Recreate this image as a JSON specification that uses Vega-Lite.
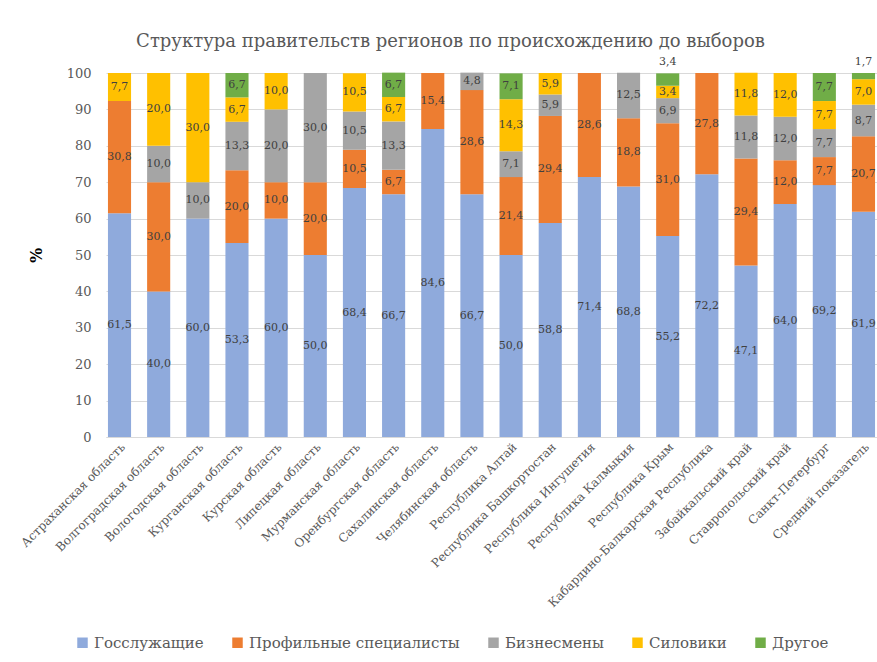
{
  "$schema": "https://vega.github.io/schema/vega-lite/v6.json",
  "autosize": {"type": "none"},
  "width": 771,
  "height": 364,
  "padding": {"left": 106, "top": 73, "right": 0, "bottom": 225},
  "background": "white",
  "title": {"text": "Структура правительств регионов по происхождению до выборов", "font": "DejaVu Serif", "fontSize": 18, "fontWeight": "normal", "color": "#595959", "offset": 5, "dx": -41},
  "config": {
    "view": {"stroke": null},
    "locale": {"number": {"decimal": ",", "thousands": " ", "grouping": [3], "currency": ["", ""]}}
  },
  "data": {"values": [
    {"r": "Астраханская область", "c": "Госслужащие", "v": 61.5},
    {"r": "Астраханская область", "c": "Профильные специалисты", "v": 30.8},
    {"r": "Астраханская область", "c": "Силовики", "v": 7.7},
    {"r": "Волгоградская область", "c": "Госслужащие", "v": 40.0},
    {"r": "Волгоградская область", "c": "Профильные специалисты", "v": 30.0},
    {"r": "Волгоградская область", "c": "Бизнесмены", "v": 10.0},
    {"r": "Волгоградская область", "c": "Силовики", "v": 20.0},
    {"r": "Вологодская область", "c": "Госслужащие", "v": 60.0},
    {"r": "Вологодская область", "c": "Бизнесмены", "v": 10.0},
    {"r": "Вологодская область", "c": "Силовики", "v": 30.0},
    {"r": "Курганская область", "c": "Госслужащие", "v": 53.3},
    {"r": "Курганская область", "c": "Профильные специалисты", "v": 20.0},
    {"r": "Курганская область", "c": "Бизнесмены", "v": 13.3},
    {"r": "Курганская область", "c": "Силовики", "v": 6.7},
    {"r": "Курганская область", "c": "Другое", "v": 6.7},
    {"r": "Курская область", "c": "Госслужащие", "v": 60.0},
    {"r": "Курская область", "c": "Профильные специалисты", "v": 10.0},
    {"r": "Курская область", "c": "Бизнесмены", "v": 20.0},
    {"r": "Курская область", "c": "Силовики", "v": 10.0},
    {"r": "Липецкая область", "c": "Госслужащие", "v": 50.0},
    {"r": "Липецкая область", "c": "Профильные специалисты", "v": 20.0},
    {"r": "Липецкая область", "c": "Бизнесмены", "v": 30.0},
    {"r": "Мурманская область", "c": "Госслужащие", "v": 68.4},
    {"r": "Мурманская область", "c": "Профильные специалисты", "v": 10.5},
    {"r": "Мурманская область", "c": "Бизнесмены", "v": 10.5},
    {"r": "Мурманская область", "c": "Силовики", "v": 10.5},
    {"r": "Оренбургская область", "c": "Госслужащие", "v": 66.7},
    {"r": "Оренбургская область", "c": "Профильные специалисты", "v": 6.7},
    {"r": "Оренбургская область", "c": "Бизнесмены", "v": 13.3},
    {"r": "Оренбургская область", "c": "Силовики", "v": 6.7},
    {"r": "Оренбургская область", "c": "Другое", "v": 6.7},
    {"r": "Сахалинская область", "c": "Госслужащие", "v": 84.6},
    {"r": "Сахалинская область", "c": "Профильные специалисты", "v": 15.4},
    {"r": "Челябинская область", "c": "Госслужащие", "v": 66.7},
    {"r": "Челябинская область", "c": "Профильные специалисты", "v": 28.6},
    {"r": "Челябинская область", "c": "Бизнесмены", "v": 4.8},
    {"r": "Республика Алтай", "c": "Госслужащие", "v": 50.0},
    {"r": "Республика Алтай", "c": "Профильные специалисты", "v": 21.4},
    {"r": "Республика Алтай", "c": "Бизнесмены", "v": 7.1},
    {"r": "Республика Алтай", "c": "Силовики", "v": 14.3},
    {"r": "Республика Алтай", "c": "Другое", "v": 7.1},
    {"r": "Республика Башкортостан", "c": "Госслужащие", "v": 58.8},
    {"r": "Республика Башкортостан", "c": "Профильные специалисты", "v": 29.4},
    {"r": "Республика Башкортостан", "c": "Бизнесмены", "v": 5.9},
    {"r": "Республика Башкортостан", "c": "Силовики", "v": 5.9},
    {"r": "Республика Ингушетия", "c": "Госслужащие", "v": 71.4},
    {"r": "Республика Ингушетия", "c": "Профильные специалисты", "v": 28.6},
    {"r": "Республика Калмыкия", "c": "Госслужащие", "v": 68.8},
    {"r": "Республика Калмыкия", "c": "Профильные специалисты", "v": 18.8},
    {"r": "Республика Калмыкия", "c": "Бизнесмены", "v": 12.5},
    {"r": "Республика Крым", "c": "Госслужащие", "v": 55.2},
    {"r": "Республика Крым", "c": "Профильные специалисты", "v": 31.0},
    {"r": "Республика Крым", "c": "Бизнесмены", "v": 6.9},
    {"r": "Республика Крым", "c": "Силовики", "v": 3.4},
    {"r": "Республика Крым", "c": "Другое", "v": 3.4},
    {"r": "Кабардино-Балкарская Республика", "c": "Госслужащие", "v": 72.2},
    {"r": "Кабардино-Балкарская Республика", "c": "Профильные специалисты", "v": 27.8},
    {"r": "Забайкальский край", "c": "Госслужащие", "v": 47.1},
    {"r": "Забайкальский край", "c": "Профильные специалисты", "v": 29.4},
    {"r": "Забайкальский край", "c": "Бизнесмены", "v": 11.8},
    {"r": "Забайкальский край", "c": "Силовики", "v": 11.8},
    {"r": "Ставропольский край", "c": "Госслужащие", "v": 64.0},
    {"r": "Ставропольский край", "c": "Профильные специалисты", "v": 12.0},
    {"r": "Ставропольский край", "c": "Бизнесмены", "v": 12.0},
    {"r": "Ставропольский край", "c": "Силовики", "v": 12.0},
    {"r": "Санкт-Петербург", "c": "Госслужащие", "v": 69.2},
    {"r": "Санкт-Петербург", "c": "Профильные специалисты", "v": 7.7},
    {"r": "Санкт-Петербург", "c": "Бизнесмены", "v": 7.7},
    {"r": "Санкт-Петербург", "c": "Силовики", "v": 7.7},
    {"r": "Санкт-Петербург", "c": "Другое", "v": 7.7},
    {"r": "Средний показатель", "c": "Госслужащие", "v": 61.9},
    {"r": "Средний показатель", "c": "Профильные специалисты", "v": 20.7},
    {"r": "Средний показатель", "c": "Бизнесмены", "v": 8.7},
    {"r": "Средний показатель", "c": "Силовики", "v": 7.0},
    {"r": "Средний показатель", "c": "Другое", "v": 1.7}
  ]},
  "transform": [
    {"calculate": "indexof(['Госслужащие','Профильные специалисты','Бизнесмены','Силовики','Другое'], datum.c)", "as": "k"},
    {"stack": "v", "groupby": ["r"], "sort": [{"field": "k", "order": "ascending"}], "as": ["y0", "y1"]},
    {"calculate": "(datum.y0 + datum.y1) / 2", "as": "ym"}
  ],
  "encoding": {
    "x": {
      "field": "r", "type": "nominal",
      "sort": ["Астраханская область", "Волгоградская область", "Вологодская область", "Курганская область", "Курская область", "Липецкая область", "Мурманская область", "Оренбургская область", "Сахалинская область", "Челябинская область", "Республика Алтай", "Республика Башкортостан", "Республика Ингушетия", "Республика Калмыкия", "Республика Крым", "Кабардино-Балкарская Республика", "Забайкальский край", "Ставропольский край", "Санкт-Петербург", "Средний показатель"],
      "scale": {"paddingInner": 0.41, "paddingOuter": 0.05},
      "axis": {"title": null, "labelAngle": -45, "labelFont": "DejaVu Serif", "labelFontSize": 12, "labelColor": "#595959", "labelLimit": 400, "ticks": false, "domainColor": "#D9D9D9", "labelPadding": 4, "grid": false}
    }
  },
  "layer": [
    {
      "mark": {"type": "bar"},
      "encoding": {
        "y": {"field": "y0", "type": "quantitative", "title": "%",
              "scale": {"domain": [0, 100], "nice": false},
              "axis": {"values": [0, 10, 20, 30, 40, 50, 60, 70, 80, 90, 100], "labelOverlap": false, "domain": false, "ticks": false, "gridColor": "#D9D9D9", "labelFont": "DejaVu Serif", "labelFontSize": 13, "labelColor": "#595959", "labelPadding": 15, "titleFont": "DejaVu Serif", "titleFontSize": 16, "titleFontWeight": "bold", "titleColor": "#000000", "titlePadding": 22}},
        "y2": {"field": "y1"},
        "color": {"field": "c", "type": "nominal",
          "scale": {"domain": ["Госслужащие", "Профильные специалисты", "Бизнесмены", "Силовики", "Другое"], "range": ["#8FAADC", "#ED7D31", "#A5A5A5", "#FFC000", "#70AD47"]},
          "legend": {"orient": "none", "legendX": -31, "legendY": 562, "direction": "horizontal", "title": null, "symbolType": "square", "symbolSize": 110, "symbolStrokeWidth": 0, "labelFont": "DejaVu Serif", "labelFontSize": 15, "labelColor": "#595959", "labelLimit": 400, "columnPadding": 26, "labelOffset": 4}}
      }
    },
    {
      "transform": [{"filter": "!(datum.c == 'Другое' && datum.v < 5)"}],
      "mark": {"type": "text", "font": "DejaVu Serif", "fontSize": 11, "color": "#404040"},
      "encoding": {
        "y": {"field": "ym", "type": "quantitative", "title": "%",
              "scale": {"domain": [0, 100], "nice": false},
              "axis": {"values": [0, 10, 20, 30, 40, 50, 60, 70, 80, 90, 100], "labelOverlap": false, "domain": false, "ticks": false, "gridColor": "#D9D9D9", "labelFont": "DejaVu Serif", "labelFontSize": 13, "labelColor": "#595959", "labelPadding": 15, "titleFont": "DejaVu Serif", "titleFontSize": 16, "titleFontWeight": "bold", "titleColor": "#000000", "titlePadding": 22}},
        "text": {"field": "v", "type": "quantitative", "format": ".1f"}
      }
    },
    {
      "transform": [{"filter": "datum.c == 'Другое' && datum.v < 5"}],
      "mark": {"type": "text", "font": "DejaVu Serif", "fontSize": 11, "color": "#404040", "dy": -11},
      "encoding": {
        "y": {"field": "y1", "type": "quantitative", "title": "%",
              "scale": {"domain": [0, 100], "nice": false},
              "axis": {"values": [0, 10, 20, 30, 40, 50, 60, 70, 80, 90, 100], "labelOverlap": false, "domain": false, "ticks": false, "gridColor": "#D9D9D9", "labelFont": "DejaVu Serif", "labelFontSize": 13, "labelColor": "#595959", "labelPadding": 15, "titleFont": "DejaVu Serif", "titleFontSize": 16, "titleFontWeight": "bold", "titleColor": "#000000", "titlePadding": 22}},
        "text": {"field": "v", "type": "quantitative", "format": ".1f"}
      }
    }
  ]
}
